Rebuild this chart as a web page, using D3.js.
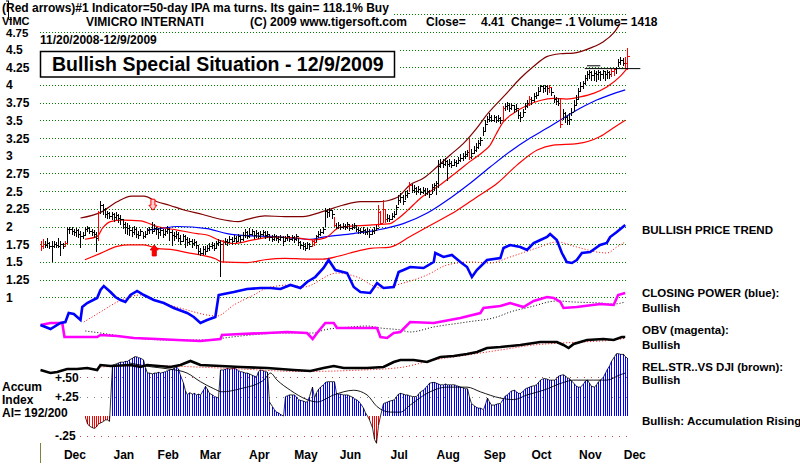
<!DOCTYPE html>
<html>
<head>
<meta charset="utf-8">
<script src="https://cdn.jsdelivr.net/npm/d3@7"></script>
<style>
body { margin: 0; background: #fff; }
svg { display: block; font-family: "Liberation Sans", Arial, sans-serif; font-weight: bold; }
</style>
</head>
<body>
<svg id="chart" width="800" height="465"></svg>
<script>
// daily bars, 11/20/2008 - 12/9/2009 (trading day index 0..264)
var cl = [1.72,1.75,1.74,1.76,1.73,1.72,1.75,1.74,1.73,1.75,1.72,1.76,
  1.96,1.97,1.94,1.92,1.95,1.90,1.86,1.88,1.96,1.98,1.94,1.92,1.90,1.84,
  2.20,2.30,2.25,2.18,2.19,2.15,2.17,2.13,2.16,2.12,2.10,
  2.03,2.00,1.98,1.95,1.92,1.97,1.90,1.88,1.93,1.86,1.90,
  1.95,1.97,1.93,1.98,1.96,1.92,1.95,1.90,1.93,1.97,
  1.92,1.88,1.86,1.90,1.84,1.80,1.86,1.82,1.78,1.80,1.76,1.78,1.74,
  1.66,1.62,1.68,1.65,1.70,1.72,1.74,1.70,1.76,1.78,
  1.75,1.78,1.80,1.78,1.82,1.79,1.84,1.80,1.86,1.83,
  1.88,1.92,1.86,1.90,1.93,1.88,1.91,1.87,1.90,1.92,1.88,1.90,
  1.85,1.83,1.86,1.84,1.82,1.85,1.80,1.84,1.86,1.83,1.85,1.82,1.86,
  1.78,1.74,1.72,1.70,1.75,1.72,1.80,1.78,1.86,1.90,1.92,1.96,
  2.22,2.20,2.24,2.18,2.02,
  2.00,2.02,1.99,2.01,2.00,2.03,1.98,2.00,2.02,1.96,1.95,1.93,1.95,1.92,1.94,1.90,1.93,1.95,1.98,
  2.20,2.05,2.25,2.10,2.12,2.10,2.15,2.18,2.27,
  2.38,2.42,2.36,2.45,2.48,2.58,2.52,2.55,2.50,2.53,2.49,2.52,2.48,2.50,2.46,2.56,2.58,2.62,
  2.86,2.90,2.88,2.92,2.88,2.90,2.87,2.91,2.89,2.94,2.97,2.99,3.02,3.05,
  2.98,3.04,3.08,3.12,3.18,3.22,3.35,3.45,3.52,3.55,3.51,3.54,3.50,3.53,3.50,
  3.68,3.70,3.72,3.68,3.71,3.66,3.68,3.58,3.55,3.62,3.70,3.74,
  3.80,3.78,3.84,3.86,3.92,3.98,3.96,3.99,3.95,3.97,3.90,3.80,3.77,3.75,
  3.45,3.60,3.55,3.50,3.52,3.62,3.72,3.80,3.92,3.98,4.02,
  4.10,4.15,4.18,4.14,4.17,4.15,4.18,4.16,4.19,4.15,4.18,4.16,
  4.20,4.22,4.24,4.32,4.35,4.31,4.31,4.41];
var hi = [1.80,1.82,1.80,1.84,1.78,1.80,1.79,1.78,1.84,1.80,1.77,1.80,
  1.99,2.00,1.99,1.97,1.98,1.96,1.94,1.92,2.00,2.01,2.00,1.96,1.95,1.92,
  2.22,2.36,2.32,2.26,2.22,2.21,2.20,2.19,2.20,2.18,2.16,
  2.10,2.07,2.05,2.02,2.00,2.01,1.99,1.94,1.96,1.92,1.94,
  1.98,2.00,2.06,2.03,2.00,1.98,1.99,1.97,1.97,2.01,
  1.98,1.95,1.92,1.94,1.92,1.88,1.90,1.88,1.85,1.84,1.82,1.82,1.80,
  1.74,1.70,1.72,1.72,1.74,1.76,1.78,1.76,1.80,1.82,
  1.81,1.81,1.84,1.83,1.86,1.85,1.88,1.86,1.89,1.88,
  1.92,1.96,1.94,1.98,1.96,1.94,1.95,1.92,1.94,1.95,1.93,1.93,
  1.90,1.88,1.89,1.88,1.86,1.88,1.86,1.87,1.89,1.87,1.88,1.87,1.89,
  1.84,1.80,1.78,1.76,1.78,1.77,1.81,1.82,1.88,1.93,1.96,1.99,
  2.26,2.25,2.26,2.24,2.14,
  2.05,2.06,2.04,2.05,2.04,2.06,2.04,2.04,2.05,2.02,2.00,1.98,1.99,1.97,1.98,1.96,1.97,1.99,2.02,
  2.30,2.22,2.37,2.24,2.18,2.16,2.19,2.22,2.30,
  2.45,2.48,2.44,2.50,2.52,2.63,2.60,2.59,2.56,2.57,2.55,2.56,2.54,2.54,2.52,2.60,2.61,2.64,
  2.94,2.96,2.96,2.97,2.94,2.95,2.93,2.95,2.94,2.98,3.02,3.04,3.06,3.08,
  3.24,3.10,3.14,3.18,3.22,3.26,3.40,3.50,3.56,3.60,3.57,3.58,3.56,3.57,3.55,
  3.70,3.74,3.76,3.74,3.75,3.72,3.73,3.64,3.62,3.66,3.74,3.78,
  3.84,3.83,3.88,3.90,3.97,4.00,4.00,4.00,4.00,4.00,3.96,3.86,3.83,3.81,
  3.80,3.66,3.62,3.58,3.60,3.68,3.78,3.86,3.96,4.04,4.06,
  4.14,4.20,4.21,4.20,4.21,4.20,4.21,4.20,4.21,4.20,4.21,4.20,
  4.22,4.24,4.25,4.36,4.39,4.38,4.40,4.52];
var lo = [1.66,1.68,1.70,1.70,1.68,1.50,1.70,1.69,1.70,1.58,1.68,1.71,
  1.77,1.90,1.88,1.86,1.85,1.84,1.70,1.82,1.86,1.92,1.90,1.86,1.84,1.64,
  1.80,2.18,2.16,2.12,2.10,2.10,2.09,2.07,2.09,2.05,2.02,
  1.96,1.90,1.88,1.86,1.85,1.88,1.84,1.82,1.86,1.82,1.84,
  1.88,1.90,1.90,1.92,1.88,1.82,1.86,1.84,1.86,1.90,
  1.80,1.72,1.80,1.82,1.78,1.74,1.78,1.70,1.72,1.74,1.70,1.72,1.68,
  1.60,1.58,1.60,1.60,1.64,1.66,1.68,1.66,1.70,1.72,
  1.28,1.49,1.74,1.72,1.76,1.74,1.78,1.76,1.78,1.76,
  1.80,1.84,1.82,1.84,1.86,1.82,1.84,1.82,1.84,1.86,1.82,1.84,
  1.80,1.78,1.80,1.79,1.77,1.80,1.72,1.78,1.80,1.78,1.79,1.76,1.80,
  1.72,1.68,1.67,1.66,1.68,1.67,1.71,1.72,1.78,1.84,1.86,1.90,
  2.00,2.12,2.14,2.10,2.00,
  1.96,1.97,1.95,1.96,1.95,1.97,1.94,1.95,1.96,1.92,1.90,1.89,1.90,1.88,1.88,1.84,1.88,1.90,1.93,
  2.00,2.02,2.05,2.05,2.06,2.06,2.09,2.12,2.18,
  2.30,2.33,2.30,2.38,2.40,2.49,2.47,2.48,2.45,2.47,2.44,2.46,2.43,2.44,2.40,2.46,2.50,2.45,
  2.55,2.82,2.82,2.85,2.64,2.84,2.82,2.85,2.84,2.88,2.91,2.93,2.96,2.98,
  2.94,2.96,3.02,3.05,3.10,3.14,3.28,3.34,3.46,3.48,3.47,3.48,3.46,3.48,3.45,
  3.48,3.63,3.65,3.62,3.64,3.60,3.62,3.52,3.48,3.54,3.64,3.67,
  3.70,3.72,3.76,3.80,3.85,3.90,3.88,3.90,3.86,3.88,3.84,3.74,3.72,3.70,
  3.39,3.50,3.46,3.43,3.44,3.56,3.62,3.72,3.80,3.90,3.94,
  4.00,4.05,4.08,4.05,4.06,4.04,4.07,4.05,4.08,4.06,4.09,4.08,
  4.11,4.12,4.15,4.25,4.28,4.26,4.22,4.21];
var redBars = [0,1,11,26,82,122,123,132,152,153,154,155,166,193,208,220,229,234,257,258,263,264];

// bands and moving averages on the price panel: [day index, price]
var upperBand = [[18,2.12],[27,2.2],[34.5,2.35],[41,2.43],[46.5,2.43],[52.5,2.35],[58,2.3],[65,2.23],[73,2.17],[80,2.11],[89,2.07],[93,2.1],[101,2.15],[110,2.14],[118,2.14],[128,2.22],[136,2.3],[144,2.35],[152,2.35],[160.5,2.41],[166.4,2.59],[172.3,2.68],[178.4,2.84],[184.4,3.01],[190.3,3.17],[196.4,3.39],[201.5,3.6],[209.8,3.88],[215.9,4.09],[221.9,4.26],[227.9,4.4],[233.9,4.44],[239.9,4.45],[247.4,4.52],[253.4,4.61],[257.9,4.73],[261,4.87]];
var middleMA = [[20,1.82],[25.5,1.86],[28,1.98],[31.5,2.07],[37,2.09],[45,2.08],[52.5,2.0],[61.5,1.95],[70.5,1.9],[75,1.88],[81,1.8],[87,1.76],[95.8,1.81],[103.5,1.85],[115,1.84],[122.8,1.81],[128.2,1.84],[135,1.99],[148,2.02],[157.4,2.04],[160,2.09],[165,2.22],[171,2.4],[180,2.59],[187.4,2.77],[193.4,2.92],[199.4,3.06],[202.4,3.15],[205,3.3],[208.4,3.48],[212.9,3.6],[218.9,3.71],[224.9,3.78],[230.9,3.81],[236.9,3.8],[242.9,3.83],[248.9,3.88],[254.9,3.97],[260.9,4.12],[264,4.23]];
var lowerBand = [[20,1.53],[27,1.62],[34.5,1.72],[40,1.74],[46.5,1.74],[52.5,1.69],[60,1.67],[66,1.63],[72,1.6],[79,1.54],[81.5,1.5],[93,1.49],[101,1.53],[110,1.55],[120,1.54],[127,1.54],[134,1.58],[140,1.63],[148.4,1.69],[157.4,1.71],[166.4,1.86],[176.8,2.04],[187.6,2.23],[196.6,2.42],[205.6,2.61],[214.6,2.87],[223.6,3.08],[230.8,3.15],[241.6,3.17],[251.9,3.27],[257.8,3.39],[263.2,3.5]];
var blueMA = [[48,1.95],[54,1.97],[61.5,2.0],[75,1.97],[84,1.9],[93,1.87],[103.5,1.86],[121.5,1.82],[127.3,1.85],[140.8,1.9],[151.6,1.95],[163.3,2.04],[174.1,2.19],[184.4,2.4],[193.4,2.61],[202.4,2.84],[211.4,3.06],[220.4,3.25],[228.1,3.39],[235.3,3.53],[242.9,3.67],[250.6,3.79],[256.4,3.86],[263.2,3.93]];
var resistance = [[245,4.23],[270,4.23]];
var resistance2 = [[246,4.27],[252,4.27]];
var arrowDown = [[50.6,2.23]];
var arrowUp = [[51.2,1.74]];

// closing power, OBV, relative strength (own units) : [day index, value]
var cpLine = [[0,10],[4.5,6],[9,12],[11.2,13],[12.7,22],[15,21],[18,15],[18.8,28],[21,32],[25.5,37],[27,45],[28.5,49],[31.5,43],[33.7,38],[36,35],[38.2,33],[40.5,40],[43.5,44],[46.5,40],[51,35],[55.5,32],[60,27],[66,22],[69,18],[72,12],[75,15],[78.7,18],[80.2,40],[82.5,41],[87,43],[93,46],[99,47],[103.5,47],[108,46],[112.5,50],[117,47],[120,53],[123.7,58],[127.4,67],[129.7,75],[132.7,65],[138,62],[141,48],[144,43],[148.4,42],[151.5,52],[154.4,47],[159,48],[161.2,63],[163.4,65],[166.4,68],[172.4,67],[177,73],[177.7,82],[181.4,78],[185.2,80],[189,73],[192,68],[194.2,58],[196.4,65],[201,75],[207,77],[208.4,87],[211.4,90],[216,88],[219,85],[222,92],[225,95],[228,98],[229.4,101],[232.4,95],[234.7,82],[236.9,73],[239.2,72],[241.4,75],[243.7,82],[247.4,83],[251.9,90],[254.9,92],[256.4,98],[259.4,103],[263.2,110]];
var cpMA = [[19.5,13],[27,23],[34.5,33],[45,40],[54,33],[66,25],[75,20],[79.5,19],[87,30],[96,40],[102,47],[112.5,50],[118.4,48],[133.5,62],[142.5,58],[153,47],[163.4,52],[174,60],[183,70],[193.4,73],[202.4,72],[211.4,78],[223.4,87],[232.4,93],[241.4,88],[250.4,83],[255,82],[259.4,88],[263.2,93]];
var obvLine = [[0,25],[4.5,27],[9.8,27],[10.8,13],[16.5,13],[25.5,13],[27,15],[34.5,14],[42,12],[52.5,11],[61.5,10],[72,9],[81,11],[81.7,15],[90,16],[102,17],[111,18],[120,17],[122.5,11],[124.5,17],[128.2,27],[132,27],[133.5,22],[141,22],[151.5,22],[153,13],[156,12],[159,17],[162,18],[166.4,28],[177,27],[189,32],[198,37],[199.4,42],[207,44],[211.4,47],[217.4,43],[222,49],[228,53],[231,52],[234,48],[235.4,42],[241.4,43],[252,46],[258,45],[260,55],[263.2,57]];
var obvMA = [[20.2,19],[27,17],[42,12],[57,10],[75,10],[82.5,12],[94.5,15],[109.4,17],[123,17],[127.6,20],[139.5,23],[147,24],[153,22],[162,20],[166.4,18],[177,23],[192,28],[205.4,33],[211.4,38],[220.4,43],[232.4,49],[240,48],[252,47],[258,46],[263.2,48]];
var rsLine = [[0,10],[4.5,7],[7.5,8],[12,11],[16.5,11],[21,12],[25.5,10],[27,15],[31.5,14],[40.5,15],[45,13],[48,15],[58.5,13],[63,15],[67.5,19],[72,15],[81,14],[90,13],[102,12],[114,10],[121.5,9],[127.4,12],[132,14],[136.5,12],[147,12],[154.4,13],[159,18],[162,20],[168,20],[174,18],[180,23],[186,24],[192,26],[196.5,28],[201,32],[207,33],[216,35],[225,38],[232.4,38],[235.4,35],[237.7,32],[240,36],[246,40],[253.4,41],[258,40],[261.7,43],[263.2,43]];
var rsMA = [[27,13],[48,14.5],[70,13],[90,11],[117,8.5],[139.5,9.5],[162,12.5],[177,20],[192,25],[207,30],[222,35],[232.4,36.7],[246,38.3],[258,40],[263.2,41.7]];

// accumulation index, daily from day 20
var accumStart = 20;
var accum = [-0.02,-0.10,-0.13,-0.15,-0.16,-0.14,-0.10,-0.09,-0.07,-0.05,-0.05,-0.07,
  0.65,0.66,0.67,0.68,0.69,0.69,0.70,0.70,0.72,0.74,0.76,0.76,0.75,0.74,0.72,0.62,
  0.55,0.55,0.54,0.55,0.55,0.56,0.55,0.56,0.57,0.58,0.59,0.60,0.62,0.63,0.60,0.52,0.42,0.32,
  0.27,0.30,0.28,0.29,0.27,0.28,0.27,0.33,0.38,0.34,0.29,0.27,0.25,0.24,0.23,
  0.59,0.59,0.60,0.61,0.60,0.61,0.61,0.60,0.58,0.57,0.56,0.55,0.55,0.54,0.52,0.51,0.50,
  0.57,0.59,0.58,0.57,0.56,0.18,0.12,0.08,0.05,0.04,0.02,0.00,
  0.25,0.26,0.27,0.27,0.27,0.24,0.21,0.20,0.19,0.18,0.18,0.25,0.37,0.23,
  0.30,0.34,0.37,0.40,0.43,0.44,0.44,0.44,0.44,0.29,0.28,0.28,0.27,0.27,0.27,0.26,
  0.24,0.22,0.21,0.19,0.16,0.10,0.04,0.00,-0.05,-0.15,-0.30,-0.35,-0.12,0.00,
  0.16,0.17,0.18,0.19,0.20,0.21,0.25,0.28,0.29,0.28,0.27,0.27,0.26,0.25,0.25,0.25,
  0.28,0.31,0.33,0.36,0.39,0.42,0.43,0.43,0.42,0.41,0.40,0.40,0.41,0.40,0.40,0.40,
  0.40,0.39,0.38,0.37,0.36,0.35,0.35,0.24,0.16,0.13,0.11,0.10,0.10,0.08,0.15,0.23,
  0.18,0.14,0.14,0.15,0.16,0.16,0.22,0.26,0.27,0.30,0.32,0.33,0.31,0.29,0.29,0.32,
  0.35,0.36,0.37,0.38,0.39,0.40,0.43,0.46,0.48,0.48,0.47,0.46,0.46,0.46,0.48,0.51,
  0.52,0.53,0.51,0.49,0.48,0.45,0.41,0.38,0.37,0.37,0.41,0.45,0.46,0.42,0.38,0.37,
  0.40,0.44,0.46,0.50,0.55,0.60,0.64,0.70,0.76,0.80,0.80,0.79,0.79,0.76,0.74];
var aiMA = [[40,.68],[50,.63],[58.5,.6],[66,.55],[72,.44],[78,.35],[81.7,.31],[90,.35],[100.5,.46],[103.5,.55],[106.5,.46],[112.5,.33],[120,.21],[124.5,.18],[132,.27],[141,.33],[147,.27],[151.5,.12],[157.5,.05],[162,.05],[166.4,.14],[174,.29],[183,.37],[192,.37],[198,.31],[207,.23],[213,.21],[219,.27],[226.4,.33],[235.4,.43],[240,.46],[249,.46],[255,.46],[261,.53],[263.2,.55]];

var priceGrid = [5,4.75,4.5,4.25,4,3.75,3.5,3.25,3,2.75,2.5,2.25,2,1.75,1.5,1.25,1];
var priceTicks = ["4.75","4.5","4.25","4","3.75","3.5","3.25","3","2.75","2.5","2.25","2","1.75","1.5","1.25","1"];
var aiLevels = [0.5, 0.25, -0.25];
var aiTicks = ["+.50","+.25","-.25"];
var months = ["Dec","Jan","Feb","Mar","Apr","May","Jun","Jul","Aug","Sep","Oct","Nov","Dec"];
var monthStart = [6,28,48,67,89,110,130,152,174,195,216,238,258];

var svg = d3.select("#chart");

var x = d3.scaleLinear().domain([0, 264]).range([40.5, 627]);
var yP = d3.scaleLinear().domain([1, 5]).range([297.3, 14.1]);
var yCP = d3.scaleLinear().domain([0, 110]).range([335, 225]);
var yOBV = d3.scaleLinear().domain([0, 60]).range([350, 290]);
var yRS = d3.scaleLinear().domain([0, 50]).range([380, 330]);
var yAI = d3.scaleLinear().domain([-0.25, 0.5]).range([435.5, 377]);

function px(v) { return Math.round(v) + 0.5; }

// green dotted price grid
svg.append("g").selectAll("line").data(priceGrid).enter().append("line")
  .attr("x1", 40).attr("x2", 628)
  .attr("y1", function(d) { return px(yP(d)); })
  .attr("y2", function(d) { return px(yP(d)); })
  .attr("stroke", "#008000").attr("stroke-dasharray", "1,2")
  .attr("shape-rendering", "crispEdges");

// accumulation reference lines
svg.append("g").selectAll("line").data(aiLevels).enter().append("line")
  .attr("x1", 80).attr("x2", 627)
  .attr("y1", function(d) { return px(yAI(d)); })
  .attr("y2", function(d) { return px(yAI(d)); })
  .attr("stroke", function(d) { return d == 0.25 ? "#808080" : "#c04848"; })
  .attr("stroke-dasharray", "1,6")
  .attr("shape-rendering", "crispEdges");

function lineOn(yScale, curve) {
  return d3.line().x(function(d) { return x(d[0]); }).y(function(d) { return yScale(d[1]); }).curve(curve);
}

var smooth = lineOn(yP, d3.curveMonotoneX);
svg.append("path").attr("d", smooth(upperBand)).attr("fill", "none").attr("stroke", "#800000").attr("stroke-width", 1.2);
svg.append("path").attr("d", smooth(lowerBand)).attr("fill", "none").attr("stroke", "#ff0000").attr("stroke-width", 1.2);
svg.append("path").attr("d", smooth(blueMA)).attr("fill", "none").attr("stroke", "#0000ff").attr("stroke-width", 1.2);
svg.append("path").attr("d", smooth(middleMA)).attr("fill", "none").attr("stroke", "#ff0000").attr("stroke-width", 1.2);

// accumulation histogram
var gAI = svg.append("g").attr("shape-rendering", "crispEdges");
accum.forEach(function(v, k) {
  var xx = px(x(k + accumStart));
  gAI.append("line").attr("x1", xx).attr("x2", xx)
    .attr("y1", yAI(0)).attr("y2", yAI(v))
    .attr("stroke", v < 0 ? "#ff0000" : "#0000ff");
});
svg.append("path")
  .attr("d", d3.line().x(function(d, k) { return px(x(k + accumStart)); }).y(function(d) { return yAI(d); })(accum))
  .attr("fill", "none").attr("stroke", "#000").attr("stroke-width", 0.8);
svg.append("path").attr("d", lineOn(yAI, d3.curveMonotoneX)(aiMA))
  .attr("fill", "none").attr("stroke", "#000").attr("stroke-width", 0.9);

// indicator lines
var straightCP = lineOn(yCP, d3.curveLinear);
var straightOBV = lineOn(yOBV, d3.curveLinear);
var straightRS = lineOn(yRS, d3.curveLinear);
svg.append("path").attr("d", lineOn(yCP, d3.curveMonotoneX)(cpMA)).attr("fill", "none")
  .attr("stroke", "#ff0000").attr("stroke-width", 1).attr("stroke-dasharray", "1,2");
svg.append("path").attr("d", lineOn(yOBV, d3.curveMonotoneX)(obvMA)).attr("fill", "none")
  .attr("stroke", "#000").attr("stroke-width", 1).attr("stroke-dasharray", "1,2");
svg.append("path").attr("d", lineOn(yRS, d3.curveMonotoneX)(rsMA)).attr("fill", "none")
  .attr("stroke", "#ff0000").attr("stroke-width", 1).attr("stroke-dasharray", "1,2");
svg.append("path").attr("d", straightRS(rsLine)).attr("fill", "none").attr("stroke", "#000").attr("stroke-width", 2.6);
svg.append("path").attr("d", straightOBV(obvLine)).attr("fill", "none").attr("stroke", "#ff00ff").attr("stroke-width", 2.6);
svg.append("path").attr("d", straightCP(cpLine)).attr("fill", "none").attr("stroke", "#0000ff").attr("stroke-width", 2.6);

// price bars
var gBars = svg.append("g").attr("shape-rendering", "crispEdges");
cl.forEach(function(c, i) {
  var col = redBars.indexOf(i) >= 0 ? "#ff0000" : "#000000";
  var xx = px(x(i));
  gBars.append("line").attr("x1", xx).attr("x2", xx)
    .attr("y1", yP(hi[i])).attr("y2", yP(lo[i])).attr("stroke", col);
  gBars.append("line").attr("x1", xx).attr("x2", xx + 2.5)
    .attr("y1", px(yP(c))).attr("y2", px(yP(c))).attr("stroke", col);
});

svg.append("path").attr("d", lineOn(yP, d3.curveLinear)(resistance)).attr("stroke", "#000").attr("stroke-width", 1).attr("fill", "none");
svg.append("path").attr("d", lineOn(yP, d3.curveLinear)(resistance2)).attr("stroke", "#000").attr("stroke-width", 1).attr("fill", "none");

// red arrows
arrowDown.forEach(function(a) {
  var cx = x(a[0]), t = yP(a[1]);
  svg.append("path")
    .attr("d", "M" + (cx - 2) + "," + (t - 11) + "H" + (cx + 2) + "V" + (t - 5) + "H" + (cx + 4) + "L" + cx + "," + t + "L" + (cx - 4) + "," + (t - 5) + "H" + (cx - 2) + "Z")
    .attr("fill", "#ffd0d0").attr("stroke", "#ff0000").attr("stroke-width", 1);
});
arrowUp.forEach(function(a) {
  var cx = x(a[0]), t = yP(a[1]);
  svg.append("path")
    .attr("d", "M" + (cx - 2) + "," + (t + 11) + "H" + (cx + 2) + "V" + (t + 5) + "H" + (cx + 4) + "L" + cx + "," + t + "L" + (cx - 4) + "," + (t + 5) + "H" + (cx - 2) + "Z")
    .attr("fill", "#ff0000").attr("stroke", "#e00000").attr("stroke-width", 1);
});

// header (opaque text backgrounds like the original)
svg.append("rect").attr("x", 0).attr("y", 0).attr("width", 392).attr("height", 15).attr("fill", "#fff");
svg.append("text").attr("x", 2).attr("y", 12).attr("font-size", 12)
  .text("(Red arrows)#1 Indicator=50-day IPA ma turns. Its gain= 118.1% Buy");
svg.append("path").attr("d", "M8.5,1V19.5M6,1H9M9,19.5H12").attr("stroke", "#000").attr("fill", "none");
var head2 = [[2, "VIMC"], [86, "VIMICRO INTERNATI"], [250, "(C) 2009 www.tigersoft.com"], [426, "Close="], [481, "4.41"], [511, "Change= .1"], [578, "Volume= 1418"]];
svg.append("g").selectAll("text").data(head2).enter().append("text")
  .attr("x", function(d) { return d[0]; }).attr("y", function(d, k) { return k == 0 ? 24.5 : 26; })
  .attr("font-size", function(d, k) { return k == 0 ? 11 : 12; })
  .text(function(d) { return d[1]; });
svg.append("text").attr("x", 40).attr("y", 44).attr("font-size", 12).text("11/20/2008-12/9/2009");

svg.append("rect").attr("x", 38).attr("y", 47).attr("width", 362).attr("height", 33).attr("fill", "#fff");
svg.append("rect").attr("x", 40.5).attr("y", 51.5).attr("width", 354).attr("height", 25.5)
  .attr("fill", "#fff").attr("stroke", "#000").attr("stroke-width", 1.5);
svg.append("text").attr("x", 52).attr("y", 71).attr("font-size", 19.5)
  .text("Bullish Special Situation - 12/9/2009");

// price labels
svg.append("g").selectAll("text").data(priceTicks).enter().append("text")
  .attr("x", 6).attr("y", function(d, k) { return yP(+d) + (k == 0 ? 5.5 : 4.5); })
  .attr("font-size", function(d, k) { return k == 0 ? 11.5 : 12; })
  .text(function(d) { return d; });

// accumulation labels
svg.append("g").selectAll("text").data(aiTicks).enter().append("text")
  .attr("x", 55).attr("y", function(d, k) { return yAI(aiLevels[k]) + 4.5; })
  .attr("font-size", 12).text(function(d) { return d; });
var leftLab = [["Accum", 390.5], ["Index", 404], ["AI= 192/200", 417]];
svg.append("g").selectAll("text").data(leftLab).enter().append("text")
  .attr("x", 2).attr("y", function(d) { return d[1]; }).attr("font-size", 12)
  .text(function(d) { return d[0]; });

// right-hand labels
var rightLab = [["BULLISH PRICE TREND", 233.5], ["CLOSING POWER (blue):", 296.5], ["Bullish", 311.5],
  ["OBV (magenta):", 333.5], ["Bullish", 349], ["REL.STR..VS DJI (brown):", 370.5], ["Bullish", 384],
  ["Bullish: Accumulation Rising", 425]];
svg.append("g").selectAll("text").data(rightLab).enter().append("text")
  .attr("x", 642).attr("y", function(d) { return d[1]; }).attr("font-size", 11.5)
  .text(function(d) { return d[0]; });

// month axis
svg.append("line").attr("x1", 40.5).attr("x2", 40.5).attr("y1", 443).attr("y2", 463)
  .attr("stroke", "#808040").attr("stroke-width", 1);
svg.append("g").selectAll("text").data(months).enter().append("text")
  .attr("x", function(d, k) { return x(monthStart[k] + 9.5); }).attr("y", 459)
  .attr("text-anchor", "middle").attr("font-size", 12)
  .text(function(d) { return d; });
</script>
</body>
</html>
